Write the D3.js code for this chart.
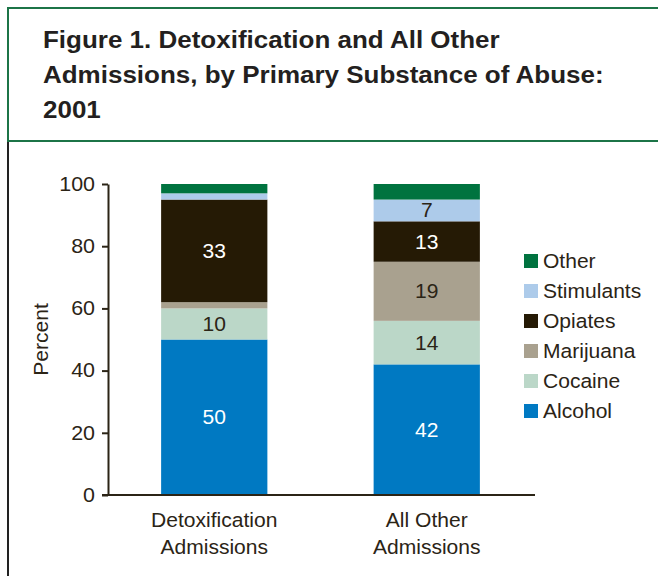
<!DOCTYPE html>
<html><head><meta charset="utf-8">
<script src="https://cdn.jsdelivr.net/npm/d3@7"></script>
<style>body{margin:0;background:#fff;}svg{display:block;font-family:"Liberation Sans",Arial,sans-serif;}</style>
</head><body>
<script>
const categories = ["Detoxification Admissions", "All Other Admissions"];
const categoryLines = [["Detoxification", "Admissions"], ["All Other", "Admissions"]];
const substances = ["Alcohol", "Cocaine", "Marijuana", "Opiates", "Stimulants", "Other"];
const alcohol = [50, 42];
const cocaine = [10, 14];
const marijuana = [2, 19];
const opiates = [33, 13];
const stimulants = [2, 7];
const other = [3, 5];
const yTicks = [0, 20, 40, 60, 80, 100];
const colors = ["#0079C2", "#BBD7C8", "#A9A18F", "#251A05", "#ADCBEA", "#00733F"];
const labelColors = ["#ffffff", "#2B2416", "#2B2416", "#ffffff", "#2B2416", "#ffffff"];
const minLabel = 6;

const W = 658, H = 576;
const FS = 19.5, SX = 1.08;
const svg = d3.select("body").append("svg").attr("width", W).attr("height", H);

// horizontally stretch text (source typography is slightly wide)
function stretch(sel, sx) {
  sel.each(function() {
    const t = d3.select(this);
    const xv = +t.attr("x") || 0;
    t.attr("x", xv / sx).attr("transform", `scale(${sx},1)`);
  });
}

// Title box
svg.append("rect").attr("x", 8).attr("y", 8).attr("width", 670).attr("height", 133)
  .attr("fill", "none").attr("stroke", "#1C7447").attr("stroke-width", 2);
svg.append("line").attr("x1", 8).attr("x2", 8).attr("y1", 142).attr("y2", 576)
  .attr("stroke", "#222").attr("stroke-width", 2);
const titleLines = ["Figure 1. Detoxification and All Other", "Admissions, by Primary Substance of Abuse:", "2001"];
svg.append("g").selectAll("text").data(titleLines).join("text")
  .attr("x", 43).attr("y", (d, i) => 48 + i * 35)
  .attr("font-size", 23).attr("font-weight", "bold").attr("fill", "#231F20")
  .text(d => d).call(stretch, 1.13);

const seriesData = [alcohol, cocaine, marijuana, opiates, stimulants, other];
const table = categories.map((c, i) => {
  const o = {category: c};
  substances.forEach((s, j) => o[s] = seriesData[j][i]);
  return o;
});
const stack = d3.stack().keys(substances)(table);

const x = d3.scaleBand().domain(categories).range([108, 533]).paddingInner(0.5).paddingOuter(0.25);
const y = d3.scaleLinear().domain([0, 100]).range([495, 184]);
const color = d3.scaleOrdinal().domain(substances).range(colors);

const g = svg.append("g");
stack.forEach((layer, li) => {
  const lg = g.append("g");
  lg.selectAll("rect").data(layer).join("rect")
    .attr("x", d => x(d.data.category)).attr("width", x.bandwidth())
    .attr("y", d => y(d[1])).attr("height", d => y(d[0]) - y(d[1]))
    .attr("fill", colors[li]);
  lg.selectAll("text").data(layer.filter(d => d[1] - d[0] >= minLabel)).join("text")
    .attr("x", d => x(d.data.category) + x.bandwidth() / 2)
    .attr("y", d => y((d[0] + d[1]) / 2)).attr("dy", "0.36em")
    .attr("text-anchor", "middle").attr("font-size", FS).attr("fill", labelColors[li])
    .text(d => d[1] - d[0]).call(stretch, SX);
});

// Axes
const axisColor = "#2B2416";
const yAxis = svg.append("g").attr("transform", "translate(108,0)")
  .call(d3.axisLeft(y).tickValues(yTicks).tickSize(6).tickPadding(7).tickSizeOuter(0));
yAxis.select(".domain").attr("stroke", axisColor).attr("stroke-width", 2);
yAxis.selectAll(".tick line").attr("stroke", axisColor).attr("stroke-width", 2);
yAxis.selectAll(".tick text").attr("font-size", FS).attr("fill", axisColor)
  .attr("font-family", "Liberation Sans, Arial, sans-serif").call(stretch, 1.1);

svg.append("line").attr("x1", 102).attr("x2", 535).attr("y1", y(0)).attr("y2", y(0))
  .attr("stroke", axisColor).attr("stroke-width", 2);

svg.append("text").attr("transform", `translate(48,${(y(0) + y(100)) / 2}) rotate(-90) scale(${SX},1)`)
  .attr("text-anchor", "middle").attr("font-size", FS).attr("fill", axisColor).text("Percent");

// X labels
categories.forEach((c, i) => {
  svg.append("g").selectAll("text").data(categoryLines[i]).join("text")
    .attr("x", x(c) + x.bandwidth() / 2).attr("y", (d, k) => 527 + k * 27)
    .attr("text-anchor", "middle").attr("font-size", FS).attr("fill", axisColor).text(d => d)
    .call(stretch, SX);
});

// Legend
const legendOrder = substances.slice().reverse();
const lgd = svg.append("g");
legendOrder.forEach((s, i) => {
  const cy = 261 + i * 30;
  lgd.append("rect").attr("x", 524).attr("y", cy - 7).attr("width", 14).attr("height", 14).attr("fill", color(s));
  lgd.append("text").attr("x", 543).attr("y", cy).attr("dy", "0.36em")
    .attr("font-size", FS).attr("fill", axisColor).text(s).call(stretch, SX);
});
</script>
</body></html>
